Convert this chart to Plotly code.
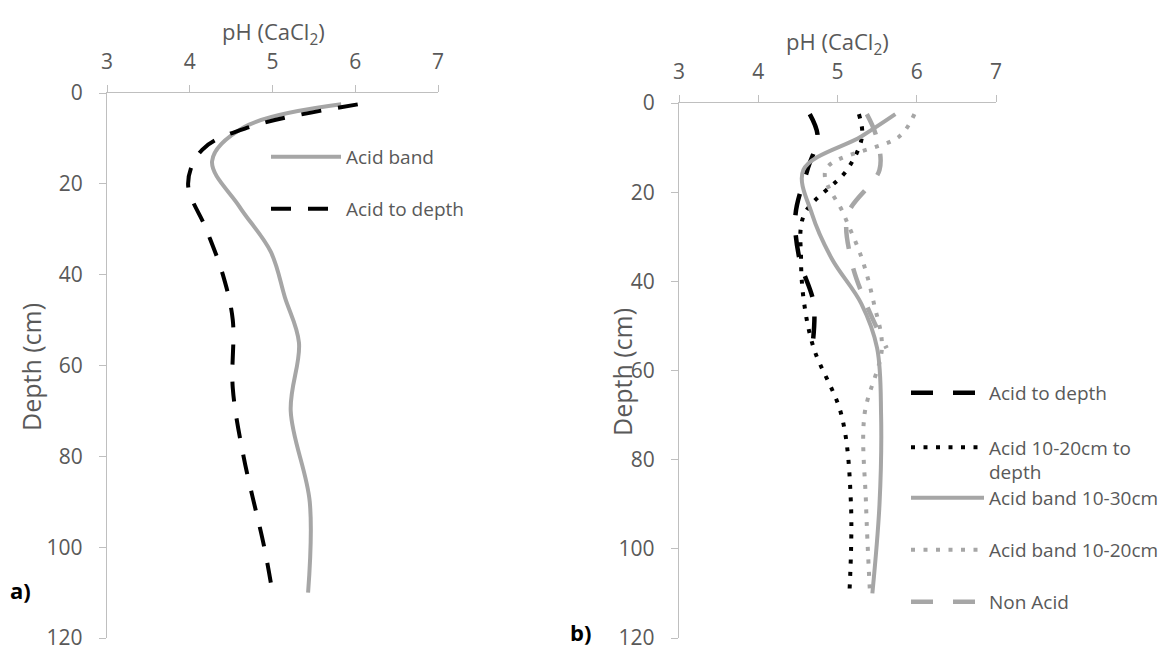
import plotly.graph_objects as go

W, H = 1164, 648

# ---------------- data ----------------
# Panel a)
a_band_depth = [2.5, 7.5, 15, 25, 35, 45, 55, 70, 90, 110]
a_band_ph = [5.83, 4.66, 4.27, 4.6, 4.98, 5.15, 5.32, 5.22, 5.45, 5.43]

a_todepth_depth = [2.5, 7.5, 12.5, 20, 30, 40, 50, 65, 80, 100, 110]
a_todepth_ph = [6.03, 4.72, 4.15, 3.98, 4.2, 4.4, 4.52, 4.52, 4.65, 4.9, 5.0]

# Panel b)
b_todepth_depth = [2.5, 7.5, 15, 25, 35, 45, 55]
b_todepth_ph = [4.65, 4.75, 4.62, 4.47, 4.52, 4.7, 4.68]

b_depths = [2.5, 7.5, 15, 25, 35, 45, 55, 70, 90, 110]
b_acid1020_ph = [5.27, 5.31, 5.12, 4.58, 4.54, 4.58, 4.7, 5.05, 5.17, 5.15]
b_band1030_ph = [5.73, 5.3, 4.57, 4.68, 4.93, 5.3, 5.5, 5.55, 5.53, 5.44]
b_band1020_ph = [5.97, 5.78, 4.85, 5.08, 5.31, 5.46, 5.56, 5.34, 5.36, 5.41]

b_nonacid_depth = [2.5, 7.5, 15, 25, 35, 45, 55]
b_nonacid_ph = [5.37, 5.49, 5.53, 5.13, 5.17, 5.36, 5.62]

ph_ticks = [3, 4, 5, 6, 7]
depth_ticks = [0, 20, 40, 60, 80, 100, 120]

# ---------------- styles ----------------
GRAY = "#A6A6A6"
BLACK = "#000000"
AXIS = "#BFBFBF"
TXT = "#595959"
FONT = "Open Sans"

fig = go.Figure()


def add(x, y, name, color, width, dash, xa, ya, legend):
    fig.add_trace(go.Scatter(
        x=x, y=y, name=name, mode="lines",
        line=dict(color=color, width=width, dash=dash, shape="spline", smoothing=1),
        xaxis=xa, yaxis=ya, legend=legend, hoverinfo="skip"))


add(a_band_ph, a_band_depth, "Acid band", GRAY, 4, "solid", "x", "y", "legend")
add(a_todepth_ph, a_todepth_depth, "Acid to depth", BLACK, 4, "20px,17px", "x", "y", "legend2")

add(b_todepth_ph, b_todepth_depth, "Acid to depth", BLACK, 4.5, "22px,20px", "x2", "y2", "legend3")
add(b_acid1020_ph, b_depths, "Acid 10-20cm to<br>depth", BLACK, 4, "4px,8.5px", "x2", "y2", "legend4")
add(b_band1030_ph, b_depths, "Acid band 10-30cm", GRAY, 4, "solid", "x2", "y2", "legend5")
add(b_band1020_ph, b_depths, "Acid band 10-20cm", GRAY, 4, "4px,8.5px", "x2", "y2", "legend6")
add(b_nonacid_ph, b_nonacid_depth, "Non Acid", GRAY, 4.5, "22px,20px", "x2", "y2", "legend7")

# ---------------- axes ----------------
def xax(domain, anchor, inside=False, overlay=None):
    d = dict(domain=domain, anchor=anchor, side="top", range=[3, 7], automargin=False,
             tickmode="array", tickvals=ph_ticks, ticktext=[str(t) for t in ph_ticks],
             ticklen=7, tickwidth=1.3, tickcolor=AXIS,
             showgrid=False, zeroline=False, fixedrange=True)
    if inside:
        d.update(ticks="inside", showticklabels=False, showline=False, overlaying=overlay)
    else:
        d.update(ticks="outside", showline=True, linecolor=AXIS, linewidth=1.3,
                 ticklabeloverflow="allow",
                 tickfont=dict(family=FONT, size=21, color=TXT), ticklabelstandoff=7)
    return d


def yax(domain, anchor, inside=False, overlay=None):
    d = dict(domain=domain, anchor=anchor, side="left", range=[120, 0], automargin=False,
             tickmode="array", tickvals=depth_ticks, ticktext=[str(t) for t in depth_ticks],
             ticklen=7, tickwidth=1.3, tickcolor=AXIS,
             showgrid=False, zeroline=False, fixedrange=True)
    if inside:
        d.update(ticks="inside", showticklabels=False, showline=False, overlaying=overlay)
    else:
        d.update(ticks="outside", showline=True, linecolor=AXIS, linewidth=1.3,
                 ticklabeloverflow="allow",
                 tickfont=dict(family=FONT, size=21, color=TXT), ticklabelstandoff=12)
    return d


xa_dom = [107 / W, 438 / W]
xb_dom = [679 / W, 996 / W]
ya_dom = [(H - 638) / H, (H - 93) / H]
yb_dom = [(H - 638) / H, (H - 103) / H]

legend_common = dict(font=dict(family=FONT, size=19, color=TXT), bgcolor="rgba(0,0,0,0)",
                     itemwidth=70, xanchor="left", yanchor="middle", tracegroupgap=0)


def leg(xpx, ypx, valign="middle", yanchor="middle", itemwidth=70):
    d = dict(legend_common)
    d.update(x=xpx / W, y=1 - ypx / H, valign=valign, yanchor=yanchor, itemwidth=itemwidth)
    return d


fig.update_layout(
    width=W, height=H,
    margin=dict(l=0, r=0, t=0, b=0, autoexpand=False),
    paper_bgcolor="white", plot_bgcolor="white",
    font=dict(family=FONT, color=TXT),
    xaxis=xax(xa_dom, "y"),
    yaxis=yax(ya_dom, "x"),
    xaxis2=xax(xb_dom, "y2"),
    yaxis2=yax(yb_dom, "x2"),
    xaxis3=xax(xa_dom, "y", inside=True, overlay="x"),
    yaxis3=yax(ya_dom, "x", inside=True, overlay="y"),
    xaxis4=xax(xb_dom, "y2", inside=True, overlay="x2"),
    yaxis4=yax(yb_dom, "x2", inside=True, overlay="y2"),
    legend=leg(266, 157),
    legend2=leg(266, 209),
    legend3=leg(906, 393, itemwidth=73),
    legend4=leg(906, 460, valign="top", itemwidth=73),
    legend5=leg(906, 498, itemwidth=73),
    legend6=leg(906, 550, itemwidth=73),
    legend7=leg(906, 602, itemwidth=73),
    showlegend=True,
)

ann = [
    dict(text="pH (CaCl<sub>2</sub>)", x=273 / W, y=1 - 33 / H, size=22),
    dict(text="pH (CaCl<sub>2</sub>)", x=837 / W, y=1 - 43 / H, size=22),
    dict(text="Depth (cm)", x=31 / W, y=1 - 367 / H, textangle=-90, size=25),
    dict(text="Depth (cm)", x=622 / W, y=1 - 372 / H, textangle=-90, size=25),
]
for a in ann:
    size = a.pop("size")
    fig.add_annotation(xref="paper", yref="paper", showarrow=False,
                       xanchor="center", yanchor="middle",
                       font=dict(family=FONT, size=size, color=TXT), **a)

fig.add_annotation(text="<b>a)</b>", xref="paper", yref="paper", x=20 / W, y=1 - 590 / H,
                   showarrow=False, xanchor="center", yanchor="middle",
                   font=dict(family=FONT, size=22, color="black"))
fig.add_annotation(text="<b>b)</b>", xref="paper", yref="paper", x=580 / W, y=1 - 632 / H,
                   showarrow=False, xanchor="center", yanchor="middle",
                   font=dict(family=FONT, size=22, color="black"))

fig.write_html("out.html", config={"displayModeBar": False},
               post_script="document.body.style.margin='0';document.body.style.overflow='hidden';")
